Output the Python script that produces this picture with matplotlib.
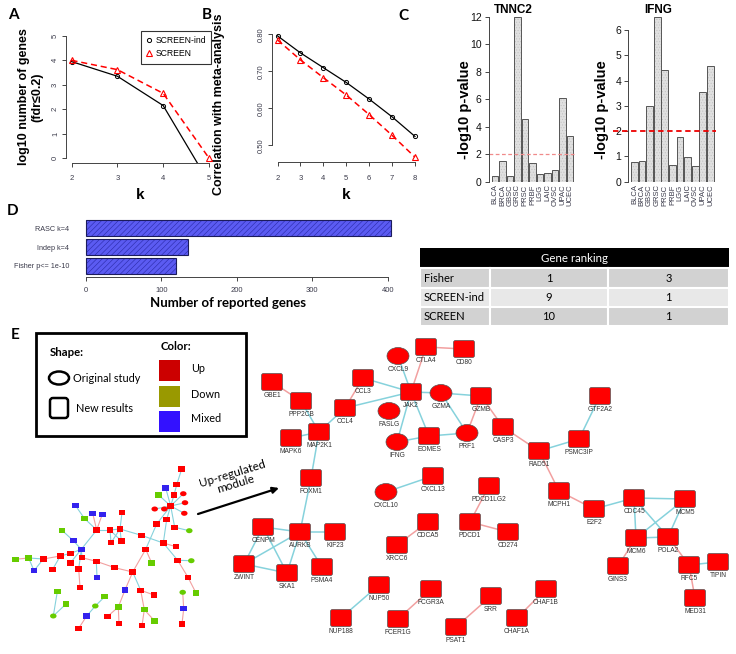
import matplotlib
matplotlib.use('Agg')
import matplotlib.pyplot as plt
from matplotlib.patches import Rectangle, Ellipse, FancyBboxPatch
from matplotlib.lines import Line2D

plt.rcParams['font.family'] = ['Liberation Sans', 'DejaVu Sans']
plt.rcParams['hatch.linewidth'] = 0.4

# ---------------- data ----------------
k_A = [2, 3, 4, 5]
A_screen_ind = [3.95, 3.35, 2.15, -1.0]
A_screen = [4.0, 3.62, 2.65, 0.0]

k_B = [2, 3, 4, 5, 6, 7, 8]
B_screen_ind = [0.796, 0.750, 0.710, 0.670, 0.625, 0.577, 0.524]
B_screen = [0.785, 0.731, 0.683, 0.636, 0.583, 0.527, 0.468]

studies = ['BLCA', 'BRCA', 'GBSC', 'GRSC', 'PRSC', 'PRBF', 'LGG', 'LAIC', 'OVSC', 'UPAC', 'UCEC']
tnnc2 = [0.41, 1.5, 0.4, 12.0, 4.56, 1.36, 0.56, 0.63, 0.85, 6.06, 3.3]
ifng = [0.76, 0.8, 2.98, 6.53, 4.41, 0.65, 1.75, 0.96, 0.62, 3.54, 4.56]
pval_threshold = 2

D_labels = ['RASC k=4', 'Indep k=4', 'Fisher p<= 1e-10']
D_values = [404, 135, 120]

table_header = 'Gene ranking'
table_rows = ['Fisher', 'SCREEN-ind', 'SCREEN']
table_tnnc2 = [1, 9, 10]
table_ifng = [3, 1, 1]

# small network (layout in pixel units): id, x, y, colour, shape
small_nodes = [
    ('a1', 181.7, 469.0, 'r', 's'), ('a2', 176.7, 484.7, 'r', 's'), ('a3', 174.0, 495.0, 'r', 's'),
    ('hub', 170.7, 506.0, 'r', 's'), ('e1', 154.7, 509.0, 'r', 'e'), ('e2', 164.3, 509.0, 'r', 'e'),
    ('e3', 183.3, 493.7, 'r', 'e'), ('e4', 185.0, 502.7, 'r', 'e'), ('e5', 184.3, 513.3, 'r', 'e'),
    ('g1', 158.7, 495.0, 'g', 's'), ('b1', 165.7, 488.0, 'b', 's'), ('a4', 166.7, 519.3, 'r', 's'),
    ('a5', 156.7, 524.0, 'r', 's'), ('a6', 174.7, 527.3, 'r', 's'), ('g2', 189.3, 530.7, 'g', 'e'),
    ('a7', 163.3, 543.0, 'r', 's'), ('a8', 176.0, 546.7, 'r', 's'), ('a9', 141.3, 535.3, 'r', 's'),
    ('a10', 145.7, 549.3, 'r', 's'), ('g3', 151.7, 563.0, 'g', 's'), ('a11', 177.7, 560.3, 'r', 's'),
    ('g4', 191.3, 560.7, 'g', 'e'), ('a12', 188.0, 577.3, 'r', 's'), ('g5', 196.0, 593.0, 'g', 's'),
    ('a13', 132.7, 572.0, 'r', 's'), ('a14', 114.7, 567.7, 'r', 's'), ('a15', 96.3, 561.3, 'r', 's'),
    ('b2', 97.0, 577.3, 'b', 's'), ('b3', 125.0, 590.0, 'b', 's'), ('a16', 140.7, 590.3, 'r', 's'),
    ('a17', 154.0, 595.0, 'r', 's'), ('g6', 144.3, 609.7, 'g', 's'), ('a18', 142.0, 625.7, 'r', 's'),
    ('g7', 154.7, 621.0, 'g', 's'), ('g8', 118.3, 607.0, 'g', 's'), ('a19', 107.3, 616.7, 'r', 's'),
    ('a20', 119.0, 623.3, 'r', 's'), ('a21', 120.0, 529.0, 'r', 's'), ('a22', 110.0, 530.0, 'r', 's'),
    ('a23', 96.7, 530.0, 'r', 's'), ('a24', 122.0, 512.7, 'r', 's'), ('a25', 111.0, 542.7, 'r', 's'),
    ('a26', 121.3, 541.0, 'r', 's'), ('b4', 92.7, 513.3, 'b', 's'), ('b5', 102.3, 514.3, 'b', 's'),
    ('g9', 84.3, 518.3, 'g', 's'), ('b6', 75.3, 505.3, 'b', 's'), ('b7', 81.3, 549.3, 'b', 's'),
    ('b8', 73.3, 540.7, 'b', 's'), ('g10', 62.0, 530.3, 'g', 's'), ('a27', 70.7, 553.3, 'r', 's'),
    ('a28', 82.0, 557.7, 'r', 's'), ('a29', 70.3, 563.0, 'r', 's'), ('a30', 78.7, 569.0, 'r', 's'),
    ('a31', 80.0, 587.3, 'r', 's'), ('a32', 60.3, 556.0, 'r', 's'), ('a33', 43.3, 559.0, 'r', 's'),
    ('a34', 52.7, 569.3, 'r', 's'), ('g11', 28.7, 558.0, 'g', 's'), ('g12', 15.3, 559.3, 'g', 's'),
    ('b9', 34.0, 570.7, 'b', 's'), ('g13', 57.3, 591.7, 'g', 's'), ('g14', 66.0, 604.0, 'g', 's'),
    ('g15', 53.3, 616.0, 'g', 'e'), ('g16', 104.7, 596.7, 'g', 's'), ('g17', 95.3, 606.0, 'g', 'e'),
    ('b10', 86.7, 616.0, 'b', 's'), ('a35', 78.7, 628.3, 'r', 's'), ('g18', 182.7, 592.3, 'g', 'e'),
    ('b11', 183.7, 608.7, 'b', 's'), ('a36', 182.0, 624.0, 'r', 's'),
]
small_edges = [
    ('a1', 'a2', 'c'), ('a2', 'a3', 'c'), ('a3', 'hub', 'c'), ('hub', 'e1', 'c'), ('hub', 'e2', 'c'),
    ('hub', 'e3', 'c'), ('hub', 'e4', 'c'), ('hub', 'e5', 'c'), ('hub', 'g1', 'c'), ('hub', 'b1', 'c'),
    ('hub', 'a4', 'c'), ('hub', 'a5', 'c'), ('hub', 'a6', 'c'), ('a6', 'g2', 'c'), ('a5', 'a10', 'c'),
    ('a4', 'a7', 'c'), ('a7', 'a8', 'p'), ('a7', 'a11', 'c'), ('a9', 'a7', 'c'), ('a11', 'g4', 'c'),
    ('a11', 'a12', 'p'), ('a12', 'g5', 'p'), ('a10', 'a13', 'p'), ('a10', 'g3', 'p'), ('a13', 'a14', 'p'),
    ('a14', 'a15', 'p'), ('a13', 'b3', 'p'), ('a13', 'a16', 'c'), ('a16', 'a17', 'p'), ('a16', 'g6', 'p'),
    ('g6', 'a18', 'p'), ('g6', 'g7', 'p'), ('b3', 'g8', 'p'), ('g8', 'a19', 'p'), ('g8', 'a20', 'p'),
    ('a9', 'a21', 'c'), ('a21', 'a22', 'c'), ('a22', 'a23', 'c'), ('a21', 'a24', 'c'), ('a22', 'a25', 'c'),
    ('a22', 'a26', 'c'), ('a21', 'a25', 'c'), ('a21', 'a26', 'c'), ('a23', 'b4', 'p'), ('a23', 'b5', 'p'),
    ('a23', 'g9', 'c'), ('g9', 'b6', 'c'), ('a23', 'b7', 'c'), ('b7', 'b8', 'c'), ('b7', 'a27', 'c'),
    ('b7', 'a28', 'c'), ('b7', 'a29', 'c'), ('b7', 'a30', 'c'), ('a28', 'a15', 'p'), ('b8', 'g10', 'c'),
    ('a27', 'a32', 'c'), ('a32', 'a33', 'p'), ('a32', 'a34', 'c'), ('a33', 'g11', 'c'), ('g11', 'g12', 'p'),
    ('g11', 'b9', 'c'), ('a33', 'b9', 'c'), ('a30', 'a31', 'p'), ('a15', 'b2', 'c'), ('g13', 'g15', 'c'),
    ('g14', 'g15', 'c'), ('g16', 'g17', 'c'), ('g17', 'b10', 'c'), ('b10', 'a35', 'p'), ('g18', 'b11', 'p'),
    ('b11', 'a36', 'p'),
]

# up-regulated module (layout in pixel units): gene, x, y, shape
module_nodes = [
    ('GBE1', 272, 382, 's'), ('PPP2CB', 301, 401, 's'), ('CCL3', 363, 378, 's'), ('CCL4', 345, 408, 's'),
    ('MAP2K1', 319, 432, 's'), ('MAPK6', 291, 438, 's'), ('CXCL9', 398, 356, 'e'), ('CTLA4', 426, 347, 's'),
    ('CD80', 464, 349, 's'), ('JAK2', 411, 392, 's'), ('FASLG', 389, 411, 'e'), ('GZMA', 441, 393, 'e'),
    ('GZMB', 481, 396, 's'), ('IFNG', 397, 442, 'e'), ('EOMES', 429, 436, 's'), ('PRF1', 467, 433, 'e'),
    ('CASP3', 503, 427, 's'), ('GTF2A2', 600, 396, 's'), ('PSMC3IP', 579, 439, 's'), ('RAD51', 539, 451, 's'),
    ('FOXM1', 311, 478, 's'), ('CXCL10', 386, 492, 'e'), ('CXCL13', 433, 476, 's'), ('PDCD1LG2', 489, 486, 's'),
    ('MCPH1', 559, 491, 's'), ('E2F2', 594, 509, 's'), ('CDC45', 634, 498, 's'), ('MCM5', 685, 499, 's'),
    ('CENPM', 263, 527, 's'), ('AURKB', 300, 532, 's'), ('KIF23', 335, 532, 's'), ('CDCA5', 428, 522, 's'),
    ('PDCD1', 470, 522, 's'), ('CD274', 508, 532, 's'), ('MCM6', 636, 538, 's'), ('POLA2', 668, 537, 's'),
    ('XRCC6', 397, 545, 's'), ('ZWINT', 244, 564, 's'), ('SKA1', 287, 573, 's'), ('PSMA4', 322, 567, 's'),
    ('GINS3', 618, 566, 's'), ('RFC5', 689, 565, 's'), ('TIPIN', 718, 562, 's'), ('MED31', 695, 598, 's'),
    ('NUP50', 379, 585, 's'), ('NUP188', 341, 618, 's'), ('FCGR3A', 431, 589, 's'), ('FCER1G', 398, 619, 's'),
    ('SRR', 491, 596, 's'), ('PSAT1', 456, 627, 's'), ('CHAF1B', 546, 589, 's'), ('CHAF1A', 517, 618, 's'),
]
module_edges = [
    ('GBE1', 'PPP2CB', 'p'), ('PPP2CB', 'MAP2K1', 'c'), ('MAPK6', 'MAP2K1', 'c'), ('MAP2K1', 'CCL4', 'c'),
    ('CCL4', 'CCL3', 'p'), ('CCL4', 'JAK2', 'c'), ('CCL3', 'JAK2', 'c'), ('CXCL9', 'JAK2', 'c'),
    ('CTLA4', 'JAK2', 'p'), ('CTLA4', 'CD80', 'p'), ('JAK2', 'GZMA', 'c'), ('GZMA', 'GZMB', 'c'),
    ('GZMA', 'PRF1', 'c'), ('JAK2', 'IFNG', 'c'), ('JAK2', 'EOMES', 'c'), ('IFNG', 'EOMES', 'c'),
    ('EOMES', 'PRF1', 'c'), ('PRF1', 'GZMB', 'p'), ('GZMB', 'CASP3', 'p'), ('CASP3', 'RAD51', 'p'),
    ('RAD51', 'PSMC3IP', 'c'), ('PSMC3IP', 'GTF2A2', 'c'), ('RAD51', 'MCPH1', 'p'), ('MCPH1', 'E2F2', 'p'),
    ('E2F2', 'CDC45', 'c'), ('CDC45', 'MCM5', 'c'), ('CDC45', 'MCM6', 'c'), ('CDC45', 'POLA2', 'c'),
    ('MCM5', 'MCM6', 'c'), ('MCM5', 'POLA2', 'c'), ('MCM6', 'POLA2', 'c'), ('MCM6', 'GINS3', 'p'),
    ('POLA2', 'RFC5', 'p'), ('RFC5', 'TIPIN', 'c'), ('RFC5', 'MED31', 'p'), ('MAP2K1', 'FOXM1', 'c'),
    ('FOXM1', 'AURKB', 'c'), ('AURKB', 'CENPM', 'c'), ('AURKB', 'KIF23', 'c'), ('AURKB', 'PSMA4', 'c'),
    ('AURKB', 'ZWINT', 'c'), ('AURKB', 'SKA1', 'c'), ('CENPM', 'ZWINT', 'c'), ('CENPM', 'SKA1', 'c'),
    ('ZWINT', 'SKA1', 'c'), ('CXCL10', 'CXCL13', 'c'), ('XRCC6', 'CDCA5', 'p'), ('PDCD1LG2', 'PDCD1', 'p'),
    ('PDCD1', 'CD274', 'p'), ('NUP50', 'NUP188', 'c'), ('FCGR3A', 'FCER1G', 'p'), ('SRR', 'PSAT1', 'p'),
    ('CHAF1B', 'CHAF1A', 'p'),
]

# ---------------- figure ----------------
W, H = 736, 654
fig = plt.figure(figsize=(W / 100, H / 100), dpi=100)


def rect(l, t, r, b):
    return [l / W, 1 - b / H, (r - l) / W, (b - t) / H]


ov = fig.add_axes([0, 0, 1, 1])
ov.set_xlim(0, W)
ov.set_ylim(H, 0)
ov.axis('off')

TICK_C = '#3a3a4a'
LABEL_FONT = ['Lato', 'DejaVu Sans']


def r_style(ax, xb, yb):
    ax.spines['top'].set_visible(False)
    ax.spines['right'].set_visible(False)
    if yb is None:
        ax.spines['left'].set_visible(False)
    else:
        ax.spines['left'].set_bounds(*yb)
    if xb is None:
        ax.spines['bottom'].set_visible(False)
    else:
        ax.spines['bottom'].set_bounds(*xb)
    for s in ['left', 'bottom']:
        ax.spines[s].set_linewidth(0.7)
        ax.spines[s].set_color('#444444')
    ax.tick_params(direction='out', length=3, width=0.7, colors='#444444',
                   labelcolor=TICK_C, labelsize=5.5, pad=2)
    ax.patch.set_visible(False)


# ---- Panel A ----
axA = fig.add_axes(rect(66, 31, 214.5, 163))
axA.plot(k_A, A_screen_ind, color='black', lw=0.9, marker='o', ms=3,
         mfc='none', mec='black', mew=0.7)
axA.plot(k_A, A_screen, color='red', lw=1.1, ls=(0, (4, 2.5)), marker='^', ms=4.2,
         mfc='none', mec='red', mew=0.8)
axA.set_xlim(2 - 0.12, 5 + 0.12)
axA.set_ylim(-0.2, 5.2)
axA.set_xticks(k_A)
axA.set_yticks(range(6))
r_style(axA, (2, 5), (0, 5))
for lab in axA.get_yticklabels():
    lab.set_rotation(90)
    lab.set_va('center')
axA.tick_params(axis='x', pad=6)
h1 = Line2D([], [], ls='none', marker='o', ms=3, mfc='none', mec='black', mew=0.7)
h2 = Line2D([], [], ls='none', marker='^', ms=4.2, mfc='none', mec='red', mew=0.8)
leg = axA.legend([h1, h2], ['SCREEN-ind', 'SCREEN'], loc='upper left',
                 bbox_to_anchor=(141 / W, 1 - 31 / H), bbox_transform=fig.transFigure,
                 frameon=True, fancybox=False, edgecolor='black', fontsize=6.2,
                 handlelength=0.7, handletextpad=0.4, borderpad=0.6, labelspacing=0.5,
                 borderaxespad=0)
leg.get_frame().set_linewidth(0.8)
ov.text(31, 97, 'log10 number of genes\n(fdr\u22640.2)', rotation=90, ha='center', va='center',
        fontsize=9, fontweight='bold', linespacing=1.15)
ov.text(140, 195, 'k', ha='center', va='center', fontsize=11, fontweight='bold')

# ---- Panel B ----
axB = fig.add_axes(rect(272, 31, 420.5, 162))
axB.plot(k_B, B_screen_ind, color='black', lw=0.9, marker='o', ms=3,
         mfc='none', mec='black', mew=0.7)
axB.plot(k_B, B_screen, color='red', lw=1.1, ls=(0, (4, 2.5)), marker='^', ms=4.2,
         mfc='none', mec='red', mew=0.8)
lo = min(B_screen + B_screen_ind)
hi = max(B_screen + B_screen_ind)
pad = 0.04 * (hi - lo)
axB.set_ylim(lo - pad, hi + pad)
axB.set_xlim(2 - 0.24, 8 + 0.24)
axB.set_xticks(k_B)
axB.set_yticks([0.5, 0.6, 0.7, 0.8])
axB.set_yticklabels(['0.50', '0.60', '0.70', '0.80'])
r_style(axB, (2, 8), (0.5, 0.8))
for lab in axB.get_yticklabels():
    lab.set_rotation(90)
    lab.set_va('center')
axB.tick_params(axis='x', pad=6)
ov.text(219, 104, 'Correlation with meta-analysis', rotation=90, ha='center', va='center',
        fontsize=9, fontweight='bold')
ov.text(346, 195, 'k', ha='center', va='center', fontsize=11, fontweight='bold')

# ---- Panel C ----
def pbars(ax, vals):
    xs = list(range(len(vals)))
    ax.bar(xs, vals, width=0.9, color='#e0e0e0', edgecolor='#c0c0c0', hatch='......', lw=0)
    ax.bar(xs, vals, width=0.9, fill=False, edgecolor='#555555', lw=0.7)
    ax.set_xticks(xs)
    ax.set_xticklabels(studies, rotation=90, fontsize=2.8, color='#777777')
    ax.tick_params(axis='x', length=0, pad=3)


axC1 = fig.add_axes(rect(488.5, 16.7, 576.5, 181.7))
pbars(axC1, tnnc2)
axC1.set_xlim(-0.85, 10.85)
axC1.set_ylim(0, 12)
r_style(axC1, None, (0, 12))
axC1.set_yticks(range(0, 13, 2))
axC1.tick_params(axis='y', labelsize=7.5, labelcolor='#111111')
axC1.tick_params(axis='x', length=0)
axC1.axhline(pval_threshold, color='#f08a8a', lw=0.9, ls=(0, (3, 2)))
ov.text(513, 10, 'TNNC2', ha='center', va='center', fontsize=8.5, fontweight='bold')
ov.text(465, 110, '-log10 p-value', rotation=90, ha='center', va='center',
        fontsize=10.5, fontweight='bold')

axC2 = fig.add_axes(rect(613, 16.7, 716, 181.7))
pbars(axC2, ifng)
axC2.set_xlim(-2.82, 10.74)
axC2.set_ylim(0, 6.53)
r_style(axC2, None, (0, 6))
axC2.spines['left'].set_position(('data', -0.84))
axC2.set_yticks(range(0, 7))
axC2.tick_params(axis='y', labelsize=7.5, labelcolor='#111111')
axC2.tick_params(axis='x', length=0)
axC2.axhline(pval_threshold, color='#ee0000', lw=1.3, ls=(0, (3, 2)))
ov.text(658, 10, 'IFNG', ha='center', va='center', fontsize=8.5, fontweight='bold')
ov.text(602, 110, '-log10 p-value', rotation=90, ha='center', va='center',
        fontsize=10.5, fontweight='bold')

# ---- Panel D ----
axD = fig.add_axes(rect(73.5, 217, 403.3, 277.3))
ys = list(range(len(D_values)))
axD.barh(ys, D_values, height=0.83, color='#5b5bf2', edgecolor='#2a2aa8', hatch='//////', lw=0)
axD.barh(ys, D_values, height=0.83, fill=False, edgecolor='#1c1c5c', lw=0.8)
axD.set_xlim(-16.2, 420.6)
axD.set_ylim(2.61, -0.60)
axD.set_yticks(ys)
axD.set_yticklabels(D_labels)
axD.set_xticks([0, 100, 200, 300, 400])
r_style(axD, (0, 400), None)
axD.tick_params(axis='y', length=0, labelsize=5.2, pad=3)
axD.tick_params(axis='x', pad=4)
ov.text(228, 303, 'Number of reported genes', ha='center', va='center', fontsize=9.5,
        fontweight='bold', family=LABEL_FONT)

# ---- panel letters ----
for letter, x, y in [('A', 13, 15), ('B', 207, 15), ('C', 403, 16), ('D', 13, 211), ('E', 15, 335)]:
    ov.text(x, y, letter, ha='center', va='center', fontsize=11, fontweight='bold', family=LABEL_FONT)

# ---- Table ----
tx = [420, 490, 608, 729]
ty = [248, 268, 288, 307, 326]
ov.add_patch(Rectangle((tx[0], ty[0]), tx[3] - tx[0], ty[1] - ty[0], facecolor='black', edgecolor='white', lw=0))
ov.text((tx[0] + tx[3]) / 2, (ty[0] + ty[1]) / 2, table_header, color='white', ha='center', va='center',
        fontsize=8.3, family=LABEL_FONT)
row_colors = ['#d2d2d2', '#e8e8e8', '#d2d2d2']
for i, name in enumerate(table_rows):
    y0, y1 = ty[i + 1], ty[i + 2]
    vals = [name, str(table_tnnc2[i]), str(table_ifng[i])]
    for j in range(3):
        ov.add_patch(Rectangle((tx[j], y0), tx[j + 1] - tx[j], y1 - y0, facecolor=row_colors[i],
                               edgecolor='white', lw=1.5))
        if j == 0:
            ov.text(tx[0] + 4, (y0 + y1) / 2, vals[j], ha='left', va='center', fontsize=8, family=LABEL_FONT)
        else:
            ov.text((tx[j] + tx[j + 1]) / 2, (y0 + y1) / 2, vals[j], ha='center', va='center', fontsize=8,
                    family=LABEL_FONT)

# ---- Panel E legend ----
ov.add_patch(Rectangle((36, 333), 210, 103, fill=False, edgecolor='black', lw=2))
ov.text(50, 352, 'Shape:', ha='left', va='center', fontsize=8.2, fontweight='bold', family=LABEL_FONT)
ov.add_patch(Ellipse((59, 378), 20, 13, facecolor='white', edgecolor='black', lw=1.8))
ov.text(73, 378, 'Original study', ha='left', va='center', fontsize=7.8, family=LABEL_FONT)
ov.add_patch(FancyBboxPatch((50, 398), 18, 20, boxstyle='round,pad=0,rounding_size=3',
                            facecolor='white', edgecolor='black', lw=1.8))
ov.text(76, 409, 'New results', ha='left', va='center', fontsize=7.8, family=LABEL_FONT)
ov.text(161, 347, 'Color:', ha='left', va='center', fontsize=8.2, fontweight='bold', family=LABEL_FONT)
for (lab, col, y) in [('Up', '#cc0000', 360), ('Down', '#999900', 386), ('Mixed', '#3311ff', 411)]:
    ov.add_patch(Rectangle((159, y), 21, 21, facecolor=col, edgecolor='none'))
    ov.text(191, y + 8, lab, ha='left', va='center', fontsize=7.8, family=LABEL_FONT)

# ---- networks ----
EDGE_C = {'c': '#86d2dc', 'p': '#f2a0a0'}
NODE_C = {'r': '#ff0000', 'g': '#66cc00', 'b': '#3322ee'}

spos = {n[0]: (n[1], n[2]) for n in small_nodes}
for a, b, c in small_edges:
    (x0, y0), (x1, y1) = spos[a], spos[b]
    ov.plot([x0, x1], [y0, y1], color=EDGE_C[c], lw=0.8, zorder=1)
for nid, x, y, col, shp in small_nodes:
    if shp == 'e':
        ov.add_patch(Ellipse((x, y), 6.5, 5, facecolor=NODE_C[col], edgecolor='none', zorder=2))
    else:
        ov.add_patch(Rectangle((x - 3.3, y - 2.6), 6.6, 5.2, facecolor=NODE_C[col], edgecolor='none', zorder=2))

mpos = {n[0]: (n[1], n[2]) for n in module_nodes}
for a, b, c in module_edges:
    (x0, y0), (x1, y1) = mpos[a], mpos[b]
    ov.plot([x0, x1], [y0, y1], color=EDGE_C[c], lw=1.1, zorder=1)
for name, x, y, shp in module_nodes:
    if shp == 'e':
        ov.add_patch(Ellipse((x, y), 22, 17, facecolor='#ff0000', edgecolor='#555555', lw=0.5, zorder=2))
    else:
        ov.add_patch(FancyBboxPatch((x - 10.5, y - 8.5), 21, 17, boxstyle='round,pad=0,rounding_size=2',
                                    facecolor='#ff0000', edgecolor='#555555', lw=0.5, zorder=2))
    ov.text(x, y + 13.5, name, ha='center', va='center', fontsize=4.8, color='#333333', zorder=3)

ov.annotate('', xy=(279, 488), xytext=(198, 514),
            arrowprops=dict(arrowstyle='-|>', lw=1.6, color='black', mutation_scale=9, shrinkA=0, shrinkB=0))
ov.text(234, 479, 'Up-regulated\nmodule', rotation=17, ha='center', va='center', fontsize=8.5,
        family=LABEL_FONT, linespacing=1.0, multialignment='center', rotation_mode='anchor')

fig.savefig('out.png', dpi=100)
